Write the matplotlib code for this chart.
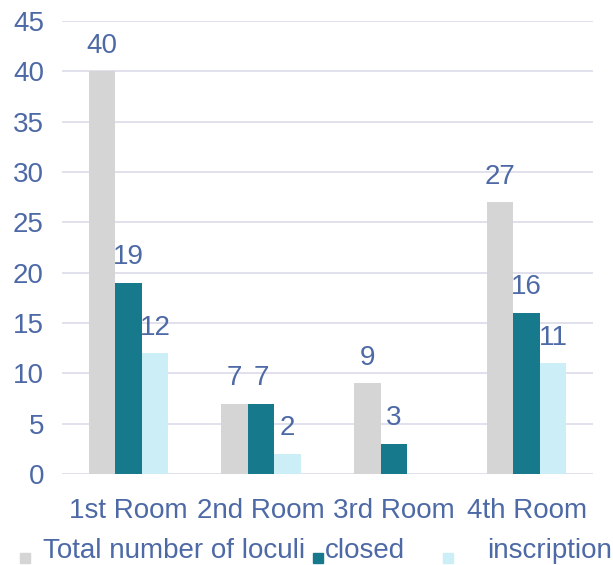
import matplotlib.pyplot as plt
import numpy as np
from matplotlib.patches import Rectangle

rooms = ['1st Room', '2nd Room', '3rd Room', '4th Room']
series_names = ['Total number of loculi', 'closed', 'inscription']
total = [40, 7, 9, 27]
closed = [19, 7, 3, 16]
inscription = [12, 2, 0, 11]

COLORS = ['#d5d5d5', '#17798c', '#cbeef7']
TEXT = '#4d69a6'

plt.rcParams['font.family'] = ['Liberation Sans', 'DejaVu Sans']

fig = plt.figure(figsize=(6.13, 5.65), dpi=100)
ax = fig.add_axes([62 / 613, 91 / 565, 531 / 613, 453 / 565])

x = np.arange(len(rooms))
w = 0.2
for i, vals in enumerate([total, closed, inscription]):
    bars = ax.bar(x + (i - 1) * w, vals, w, color=COLORS[i], zorder=2)
    labels = [str(v) if v > 0 else '' for v in vals]
    ax.bar_label(bars, labels=labels, padding=9, color=TEXT, fontsize=20)

ax.set_xlim(-0.5, len(rooms) - 0.5)
ax.set_ylim(0, 45)
ax.set_yticks(range(0, 46, 5))
ax.set_xticks(x)
ax.set_xticklabels(rooms)
ax.tick_params(length=0, labelsize=20, labelcolor=TEXT)
ax.tick_params(axis='y', pad=13)
ax.tick_params(axis='x', pad=17)
ax.grid(axis='y', color='#dcdcea', linewidth=1.2, zorder=0)
for s in ax.spines.values():
    s.set_visible(False)

# legend laid out by hand to keep the uneven gaps
marker_x = [20, 313, 443]
text_x = [43, 325, 487]
for i, name in enumerate(series_names):
    fig.patches.append(Rectangle((marker_x[i] / 613, 2 / 565), 10 / 613, 10 / 565,
                                 transform=fig.transFigure, color=COLORS[i]))
    fig.text(text_x[i] / 613, 7 / 565, name, color=TEXT, fontsize=20, va='baseline')

fig.savefig('out.png', dpi=100)
